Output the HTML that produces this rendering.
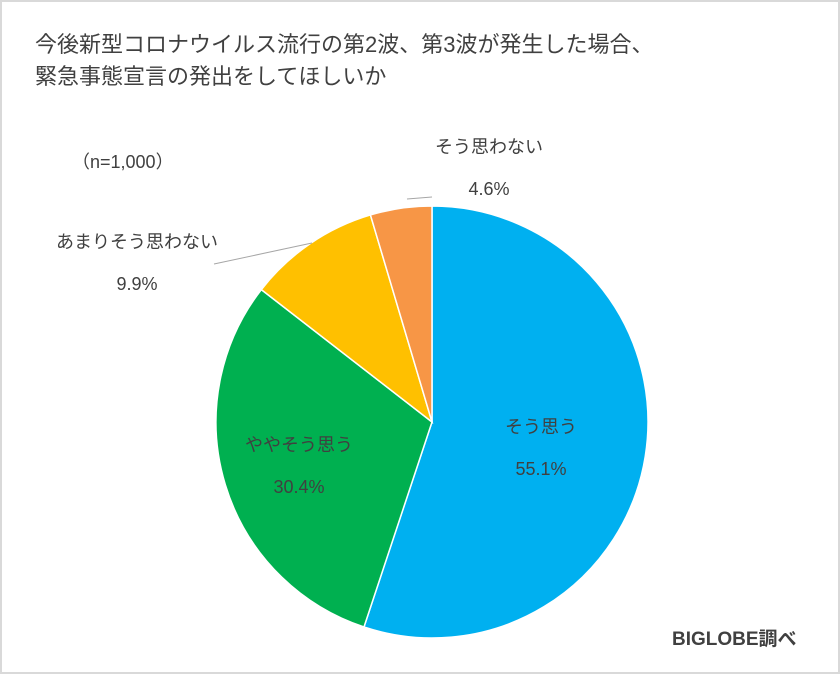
<!DOCTYPE html>
<html><head><meta charset="utf-8"><style>
html,body{margin:0;padding:0;background:#fff}
#c{position:relative;width:836px;height:670px;border:2px solid #d9d9d9;font-family:"Liberation Sans","Noto Sans CJK JP",sans-serif;color:#404040;overflow:hidden}
.t{position:absolute;white-space:nowrap}
</style></head><body>
<div id="c">
<div class="t" style="left:33px;top:27px;font-size:22px;line-height:32px;color:#404040">今後新型コロナウイルス流行の第2波、第3波が発生した場合、<br>緊急事態宣言の発出をしてほしいか</div>
<div class="t" style="left:70px;top:146px;font-size:18px">（n=1,000）</div>
<svg id="pie" width="836" height="670" style="position:absolute;left:0;top:0">
<g id="slices"></g>
<line x1="212" y1="262" x2="310" y2="241" stroke="#a6a6a6" stroke-width="1"/>
<line x1="405" y1="197" x2="430" y2="195" stroke="#a6a6a6" stroke-width="1"/>
<g id="labels" font-family="Liberation Sans, Noto Sans CJK JP, sans-serif" font-size="18" fill="#404040"></g>
</svg>
<div class="t" style="left:670px;top:622px;font-size:19px;font-weight:bold;color:#404040">BIGLOBE調べ</div>
</div>
<script>
const categories=["そう思う","ややそう思う","あまりそう思わない","そう思わない"];
const values=[55.1,30.4,9.9,4.6];
const colors=["#00b0f0","#00b050","#ffc000","#f79646"];
const labelPos=[[539,431],[297,449],[135,246],[487,151]];
const cx=430,cy=420,r=216;
const g=document.getElementById('slices'),lg=document.getElementById('labels');
const total=values.reduce((a,b)=>a+b,0);
let a0=-Math.PI/2;
const ns="http://www.w3.org/2000/svg";
values.forEach((v,i)=>{
 const a1=a0+v/total*2*Math.PI;
 const x0=cx+r*Math.cos(a0),y0=cy+r*Math.sin(a0),x1=cx+r*Math.cos(a1),y1=cy+r*Math.sin(a1);
 const p=document.createElementNS(ns,'path');
 p.setAttribute('d',`M${cx},${cy}L${x0},${y0}A${r},${r} 0 ${a1-a0>Math.PI?1:0} 1 ${x1},${y1}Z`);
 p.setAttribute('fill',colors[i]);p.setAttribute('stroke','#fff');p.setAttribute('stroke-width','1.5');
 
 
 g.appendChild(p);
 const [lx,ly]=labelPos[i];
 const t1=document.createElementNS(ns,'text');
 t1.setAttribute('x',lx);t1.setAttribute('y',ly);t1.setAttribute('text-anchor','middle');t1.textContent=categories[i];
 
 
 lg.appendChild(t1);
 const t2=document.createElementNS(ns,'text');
 t2.setAttribute('x',lx);t2.setAttribute('y',ly+42);t2.setAttribute('text-anchor','middle');t2.textContent=v.toFixed(1)+'%';
 
 
 lg.appendChild(t2);
 a0=a1;
});
</script>
</body></html>
